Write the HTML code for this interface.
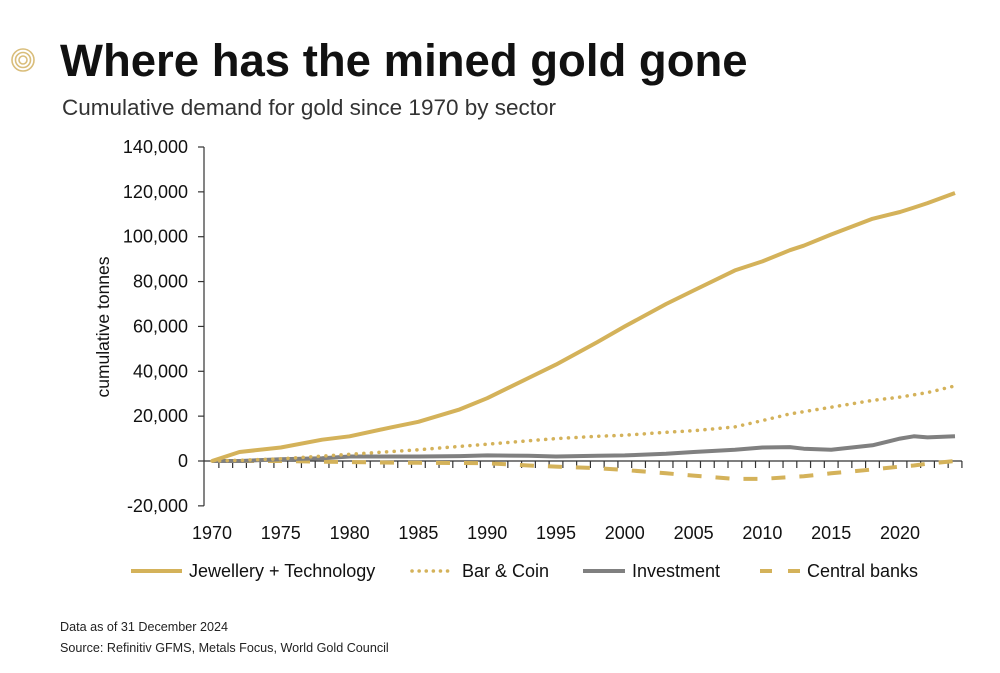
<!DOCTYPE html>
<html><head><meta charset="utf-8"><style>
body{margin:0;background:#fff;width:1000px;height:673px;overflow:hidden;font-family:"Liberation Sans",sans-serif}
svg{position:absolute;left:0;top:0}
</style></head><body>
<svg width="1000" height="673" id="c">
<g fill="none" stroke="#d9bd7a" stroke-width="1.6">
<circle cx="23" cy="60" r="11"/><circle cx="23" cy="60" r="7.5"/><circle cx="23" cy="60" r="4"/></g>
<text x="60" y="76" font-size="45.5" font-weight="bold" fill="#111">Where has the mined gold gone</text>
<text x="62" y="115" font-size="22.5" fill="#333">Cumulative demand for gold since 1970 by sector</text>
<text transform="translate(109,327) rotate(-90)" text-anchor="middle" font-size="17.5" fill="#111">cumulative tonnes</text>
<g id="axes"></g><g id="series"></g>
<g font-size="18" fill="#111">
<g><line x1="131" x2="182" y1="571" y2="571" stroke="#d4b25a" stroke-width="4"/><text x="189" y="577">Jewellery + Technology</text></g>
<g><line x1="412" x2="452" y1="571" y2="571" stroke="#d4b25a" stroke-width="3.5" stroke-dasharray="0.1 7" stroke-linecap="round"/><text x="462" y="577">Bar &amp; Coin</text></g>
<g><line x1="583" x2="625" y1="571" y2="571" stroke="#808080" stroke-width="4"/><text x="632" y="577">Investment</text></g>
<g><line x1="760" x2="800" y1="571" y2="571" stroke="#d4b25a" stroke-width="4" stroke-dasharray="12 16"/><text x="807" y="577">Central banks</text></g>
</g>
<text x="60" y="631" font-size="12.6" fill="#222">Data as of 31 December 2024</text>
<text x="60" y="652" font-size="12.6" fill="#222">Source: Refinitiv GFMS, Metals Focus, World Gold Council</text>
</svg>
<script>
const years=[1970,1972,1975,1978,1980,1983,1985,1988,1990,1993,1995,1998,2000,2003,2005,2008,2010,2012,2013,2015,2018,2020,2021,2022,2024];
const jewellery=[0,4000,6000,9500,11000,15000,17500,23000,28000,37000,43000,53000,60000,70000,76000,85000,89000,94000,96000,101000,108000,111000,113000,115000,119500];
const barCoin=[0,300,1000,2200,3000,4200,5000,6500,7500,9000,10000,11000,11500,12800,13500,15200,18000,21000,22000,24000,27000,28500,29500,30500,33500];
const investment=[0,0,800,1200,2000,2000,2000,2200,2500,2300,2000,2300,2500,3200,4000,5000,6000,6200,5500,5000,7000,10000,11000,10500,11000];
const centralBanks=[0,0,0,-300,-500,-700,-800,-900,-1000,-2000,-2500,-3200,-4000,-5500,-6500,-8000,-8000,-7200,-6800,-5500,-3800,-2500,-2000,-1200,0];
const yTicks=[-20000,0,20000,40000,60000,80000,100000,120000,140000];
const xLabels=[1970,1975,1980,1985,1990,1995,2000,2005,2010,2015,2020];
const X=y=>212+(y-1970)*13.76, Y=v=>461-v*(314/140000);
const ns="http://www.w3.org/2000/svg";
function mk(t,a,p){const e=document.createElementNS(ns,t);for(const k in a)e.setAttribute(k,a[k]);p.appendChild(e);return e;}
const ax=document.getElementById('axes'),se=document.getElementById('series');
const ya=mk('line',{x1:204,x2:204,y1:Y(140000),y2:Y(-20000),stroke:'#333','stroke-width':1.2},ax);


yTicks.forEach(v=>{
 const t=mk('line',{x1:198,x2:204,y1:Y(v),y2:Y(v),stroke:'#333','stroke-width':1.2},ax);
 
 
 const l=mk('text',{x:188,y:Y(v)+6,'text-anchor':'end','font-size':18,fill:'#111'},ax);
 l.textContent=v.toLocaleString('en-US');
 
 
});
const xa=mk('line',{x1:204,x2:X(2024.5),y1:Y(0),y2:Y(0),stroke:'#333','stroke-width':1.2},ax);


for(let y=1970.5;y<=2024.6;y++){
 const t=mk('line',{x1:X(y),x2:X(y),y1:Y(0),y2:Y(0)+7,stroke:'#333','stroke-width':1.2},ax);
 
 
}
xLabels.forEach(y=>{
 const l=mk('text',{x:X(y),y:Y(-20000)+33,'text-anchor':'middle','font-size':18,fill:'#111'},ax);
 l.textContent=y;
 
 
});
function line(vals,style,name){
 const d=vals.map((v,i)=>(i?'L':'M')+X(years[i]).toFixed(1)+','+Y(v).toFixed(1)).join('');
 const p=mk('path',Object.assign({d:d,fill:'none','stroke-linejoin':'round'},style),se);
 
 
}
line(centralBanks,{stroke:'#d4b25a','stroke-width':4,'stroke-dasharray':'14 14'},'central-banks-line');
line(investment,{stroke:'#808080','stroke-width':4},'investment-line');
line(barCoin,{stroke:'#d4b25a','stroke-width':3.5,'stroke-dasharray':'0.1 7.5','stroke-linecap':'round'},'bar-coin-line');
line(jewellery,{stroke:'#d4b25a','stroke-width':4},'jewellery-technology-line');
</script>
</body></html>
